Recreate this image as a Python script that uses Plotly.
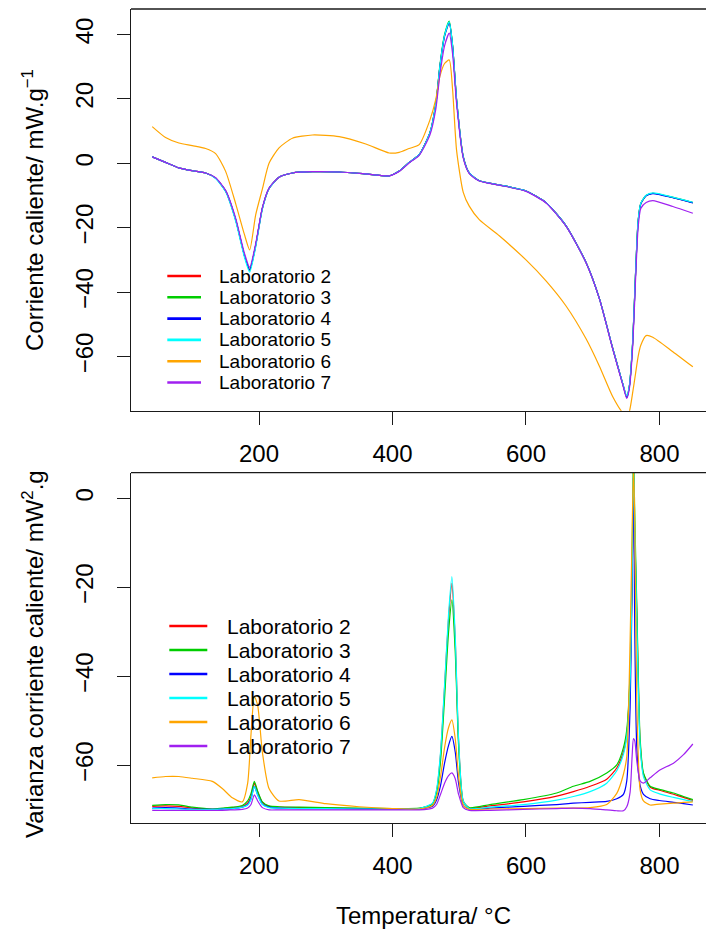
import plotly.graph_objects as go

# ---------------- data ----------------
labs = ["Laboratorio 2", "Laboratorio 3", "Laboratorio 4",
        "Laboratorio 5", "Laboratorio 6", "Laboratorio 7"]
colors = ["#FF0000", "#00CD00", "#0000FF", "#00FFFF", "#FFA500", "#A020F0"]

x_ticks = [200, 400, 600, 800]
top_y_ticks = [-60, -40, -20, 0, 20, 40]
bot_y_ticks = [-60, -40, -20, 0]

# Top panel: heat flow (Corriente caliente)
top_T = [40, 60, 80, 100, 120, 135, 150, 165, 178, 186, 195, 205, 215, 230, 250,
         280, 320, 360, 395, 410, 425, 440, 456, 465, 471, 478, 485, 490, 496, 506,
         515, 530, 560, 600, 630, 660, 690, 710, 730, 745, 751, 755, 760, 764, 768,
         772, 780, 790, 820, 850]
top_lab2 = [2.0, 0.3, -1.4, -2.3, -3.0, -4.6, -8.6, -17.5, -28.5, -33.0, -25.5, -14.0, -7.8, -4.3, -3.0,
            -2.6, -2.7, -3.3, -3.9, -2.4, 0.3, 2.7, 9.4, 18.5, 30.0, 39.5, 43.7, 36.5, 19.7, 2.0,
            -3.0, -5.4, -6.7, -8.6, -12.2, -19.4, -30.8, -42.0, -57.5, -68.5, -72.5, -69.0, -55.0, -35.0, -18.0,
            -12.5, -10.0, -9.3, -10.6, -12.2]
top_lab3 = [2.0, 0.3, -1.4, -2.3, -3.0, -4.6, -8.6, -17.5, -28.5, -33.2, -25.5, -14.0, -7.8, -4.3, -3.0,
            -2.6, -2.7, -3.3, -3.9, -2.4, 0.3, 2.7, 9.5, 18.8, 30.4, 40.0, 44.2, 36.8, 19.9, 2.1,
            -3.0, -5.4, -6.7, -8.6, -12.2, -19.4, -30.8, -42.0, -57.5, -68.5, -72.6, -69.0, -55.0, -35.0, -18.0,
            -12.5, -10.0, -9.3, -10.6, -12.2]
top_lab4 = [2.0, 0.3, -1.4, -2.3, -3.0, -4.6, -8.6, -17.5, -28.5, -33.1, -25.5, -14.0, -7.8, -4.3, -3.0,
            -2.6, -2.7, -3.3, -3.9, -2.4, 0.3, 2.7, 9.4, 18.5, 30.0, 39.5, 43.6, 36.4, 19.6, 2.0,
            -3.0, -5.4, -6.7, -8.6, -12.2, -19.4, -30.8, -42.0, -57.5, -68.5, -72.8, -69.2, -55.2, -35.2, -18.2,
            -12.6, -10.1, -9.4, -10.7, -12.3]
top_lab5 = [2.0, 0.3, -1.4, -2.3, -3.0, -4.7, -8.8, -17.9, -29.0, -33.8, -26.0, -14.3, -7.9, -4.3, -3.0,
            -2.6, -2.7, -3.3, -3.9, -2.4, 0.3, 2.7, 9.4, 18.6, 30.1, 39.7, 43.9, 36.6, 19.8, 2.0,
            -3.0, -5.4, -6.7, -8.6, -12.2, -19.4, -30.8, -42.0, -57.5, -68.4, -72.2, -68.8, -54.6, -34.6, -17.8,
            -12.4, -9.9, -9.2, -10.5, -12.1]
top_lab6 = [11.4, 8.0, 6.3, 5.5, 4.6, 3.0, -2.5, -12.5, -22.0, -26.9, -16.0, -8.0, 0.0, 4.8, 7.8,
            8.8, 8.3, 6.0, 3.2, 3.4, 4.6, 5.8, 13.4, 20.0, 27.0, 31.0, 32.1, 23.0, 4.0, -9.0,
            -13.3, -17.5, -22.5, -30.0, -36.5, -44.3, -54.5, -63.0, -72.5, -77.5, -78.5, -77.0, -71.0, -65.5, -60.0,
            -56.5, -53.5, -54.0, -58.5, -63.2]
top_lab7 = [2.0, 0.3, -1.4, -2.3, -3.0, -4.5, -8.4, -17.0, -27.8, -32.3, -25.0, -13.8, -7.7, -4.3, -3.0,
            -2.6, -2.7, -3.3, -3.9, -2.5, 0.1, 2.5, 8.8, 17.0, 27.5, 36.5, 40.4, 34.0, 18.5, 1.6,
            -3.2, -5.5, -6.8, -8.7, -12.3, -19.5, -30.9, -42.1, -57.7, -68.8, -73.0, -69.8, -56.5, -37.0, -20.0,
            -14.0, -12.2, -11.6, -13.4, -15.5]

# Bottom panel: variance of heat flow
bot_T = [40, 60, 80, 100, 130, 145, 160, 175, 183, 188, 193, 198, 205, 215, 230, 260, 300,
         350, 400, 440, 460, 466, 472, 478, 484, 489, 494, 499, 506, 515, 546, 596, 646, 671,
         696, 721, 736, 746, 751, 756, 759, 761, 763, 766, 771, 776, 786, 800, 821, 836, 850]
bot_lab2 = [-69.2, -69.1, -69.2, -69.6, -69.8, -69.7, -69.5, -69.2, -68.5, -67.0, -64.0, -66.0, -68.3, -69.2, -69.4, -69.5, -69.6,
            -69.7, -69.8, -69.7, -68.6, -65.8, -57.5, -42.5, -27.0, -19.1, -32.0, -54.5, -68.0, -69.6, -69.1, -68.2, -66.9, -65.9,
            -64.7, -63.1, -60.6, -57.0, -53.0, -40.0, -18.0, 2.0, -8.0, -26.0, -55.0, -62.0, -64.9, -65.6, -66.5, -67.2, -67.9]
bot_lab3 = [-69.0, -68.8, -68.9, -69.4, -69.8, -69.6, -69.4, -69.0, -68.0, -66.3, -63.6, -65.8, -68.2, -69.1, -69.3, -69.4, -69.5,
            -69.6, -69.7, -69.6, -68.7, -66.2, -59.0, -45.0, -30.0, -22.8, -34.5, -55.5, -68.2, -69.5, -68.8, -67.7, -66.2, -64.7,
            -63.6, -61.7, -59.9, -56.0, -52.0, -39.0, -15.0, 12.0, -4.0, -24.0, -54.0, -61.7, -64.7, -65.4, -66.2, -67.0, -67.7]
bot_lab4 = [-69.6, -69.5, -69.6, -69.8, -69.9, -69.8, -69.7, -69.4, -68.8, -67.5, -64.7, -66.6, -68.7, -69.4, -69.6, -69.7, -69.7,
            -69.8, -69.8, -69.8, -69.2, -67.8, -64.5, -59.5, -55.5, -53.5, -57.0, -64.0, -69.0, -69.8, -69.6, -69.2, -68.8, -68.5,
            -68.3, -68.1, -67.5, -66.5, -63.5, -47.0, -20.0, 4.5, -30.0, -56.0, -64.5, -66.5, -67.5, -67.9, -68.3, -68.6, -68.9]
bot_lab5 = [-69.7, -69.7, -69.8, -69.9, -69.9, -69.8, -69.7, -69.4, -68.9, -67.6, -64.7, -66.7, -68.8, -69.5, -69.6, -69.7, -69.7,
            -69.8, -69.8, -69.7, -68.5, -65.5, -57.0, -42.0, -26.0, -17.6, -31.0, -54.0, -68.0, -69.7, -69.4, -68.8, -67.8, -67.0,
            -65.9, -64.0, -61.2, -57.5, -53.5, -41.0, -17.0, 8.0, -6.0, -28.0, -55.5, -62.5, -65.5, -66.4, -67.2, -67.7, -68.1]
bot_lab6 = [-62.8, -62.5, -62.5, -62.9, -63.6, -65.2, -67.3, -68.2, -64.0, -53.0, -44.5, -46.5, -57.0, -65.2, -68.0, -67.7, -68.6,
            -69.3, -69.7, -69.8, -69.0, -67.2, -62.5, -56.0, -51.5, -49.8, -54.0, -62.5, -69.0, -69.9, -69.8, -69.7, -69.6, -69.6,
            -69.5, -68.8, -66.3, -62.0, -58.0, -32.0, -8.0, 7.0, -5.0, -46.0, -65.5, -68.0, -68.9, -68.7, -68.5, -68.3, -68.2]
bot_lab7 = [-70.1, -70.1, -70.1, -70.1, -70.1, -70.1, -70.0, -69.9, -69.6, -68.8, -66.6, -68.0, -69.5, -70.0, -70.0, -70.0, -70.0,
            -70.0, -70.0, -70.0, -69.6, -68.8, -66.5, -64.0, -62.3, -61.7, -63.0, -66.5, -69.5, -70.1, -70.1, -69.9, -69.7, -69.6,
            -69.7, -70.0, -70.2, -70.2, -69.3, -66.0, -58.0, -54.0, -54.5, -59.0, -63.5, -64.0, -62.8, -61.1, -59.5, -57.6, -55.2]

top_series = [top_lab2, top_lab3, top_lab4, top_lab5, top_lab6, top_lab7]
bot_series = [bot_lab2, bot_lab3, bot_lab4, bot_lab5, bot_lab6, bot_lab7]

# ---------------- geometry ----------------
W, H = 706, 934
ML, MT, MB = 131, 9, 111
PW = W - ML
PH = H - MT - MB


def xp(px):
    return (px - ML) / PW


def yp(py):
    return (H - MB - py) / PH


FONT = "Liberation Sans, Arial, Helvetica, sans-serif"

fig = go.Figure()
for name, col, vals in zip(labs, colors, top_series):
    fig.add_trace(go.Scatter(x=top_T, y=vals, mode="lines", name=name, showlegend=False,
                             line=dict(color=col, width=1.2, shape="spline", smoothing=0.6),
                             xaxis="x", yaxis="y"))
for name, col, vals in zip(labs, colors, bot_series):
    fig.add_trace(go.Scatter(x=bot_T, y=vals, mode="lines", name=name, showlegend=False,
                             line=dict(color=col, width=1.2, shape="spline", smoothing=0.6),
                             xaxis="x2", yaxis="y2"))

axis_common = dict(showgrid=False, zeroline=False, showline=True, linecolor="#1a1a1a", linewidth=1.3,
                   ticks="outside", ticklen=13, tickwidth=1.2, tickcolor="#1a1a1a",
                   tickfont=dict(family=FONT, size=24, color="black"), automargin=False)

top_dom = [yp(410.7), 1.0]
bot_dom = [0.0, yp(472.7)]
xr = [8.2, 869.7]

fig.update_layout(
    width=W, height=H,
    margin=dict(l=ML, r=0, t=MT, b=MB, pad=0),
    paper_bgcolor="white", plot_bgcolor="white",
    showlegend=False,
    font=dict(family=FONT, color="black"),
    xaxis=dict(domain=[0, 1], range=xr, anchor="y", tickmode="array", tickvals=x_ticks,
               ticklabelstandoff=8, **axis_common),
    yaxis=dict(domain=top_dom, range=[-76.82, 47.92], anchor="x", tickmode="array", tickvals=top_y_ticks,
               tickangle=-90, ticklabelstandoff=14, **axis_common),
    xaxis2=dict(domain=[0, 1], range=xr, anchor="y2", tickmode="array", tickvals=x_ticks,
                ticklabelstandoff=8, **axis_common),
    yaxis2=dict(domain=bot_dom, range=[-72.95, 5.75], anchor="x2", tickmode="array", tickvals=bot_y_ticks,
                tickangle=-90, ticklabelstandoff=14, **axis_common),
)

shapes = []
annotations = []
# top frame lines
for dom in (top_dom, bot_dom):
    shapes.append(dict(type="line", xref="paper", yref="paper", x0=0, x1=1.05, y0=dom[1], y1=dom[1],
                       line=dict(color="#1a1a1a", width=1.3)))

# manual legends
leg_specs = [
    dict(x0=167.3, x1=201.0, tx=217.3, y0=276.0, dy=21.3, size=19),
    dict(x0=169.3, x1=207.3, tx=225.0, y0=626.0, dy=24.0, size=21),
]
for spec in leg_specs:
    for i, (name, col) in enumerate(zip(labs, colors)):
        yy = spec["y0"] + i * spec["dy"]
        shapes.append(dict(type="line", xref="paper", yref="paper",
                           x0=xp(spec["x0"]), x1=xp(spec["x1"]), y0=yp(yy), y1=yp(yy),
                           line=dict(color=col, width=2.6)))
        annotations.append(dict(text=name, xref="paper", yref="paper", x=xp(spec["tx"]), y=yp(yy),
                                xanchor="left", yanchor="middle", showarrow=False,
                                font=dict(family=FONT, size=spec["size"], color="black")))

# axis titles
annotations.append(dict(text="Corriente caliente/ mW.g<sup>\u22121</sup>", xref="paper", yref="paper",
                        x=xp(33), y=yp(210), xanchor="center", yanchor="middle", textangle=-90,
                        showarrow=False, font=dict(family=FONT, size=24, color="black")))
annotations.append(dict(text="Varianza corriente caliente/ mW<sup>2</sup>.g", xref="paper", yref="paper",
                        x=xp(33), y=yp(468), xanchor="center", yanchor="top", textangle=-90,
                        showarrow=False, font=dict(family=FONT, size=24, color="black")))
annotations.append(dict(text="Temperatura/ \u00b0C", xref="paper", yref="paper",
                        x=xp(423), y=yp(915), xanchor="center", yanchor="middle",
                        showarrow=False, font=dict(family=FONT, size=24, color="black")))

fig.update_layout(shapes=shapes, annotations=annotations)
fig.write_html("out.html")
